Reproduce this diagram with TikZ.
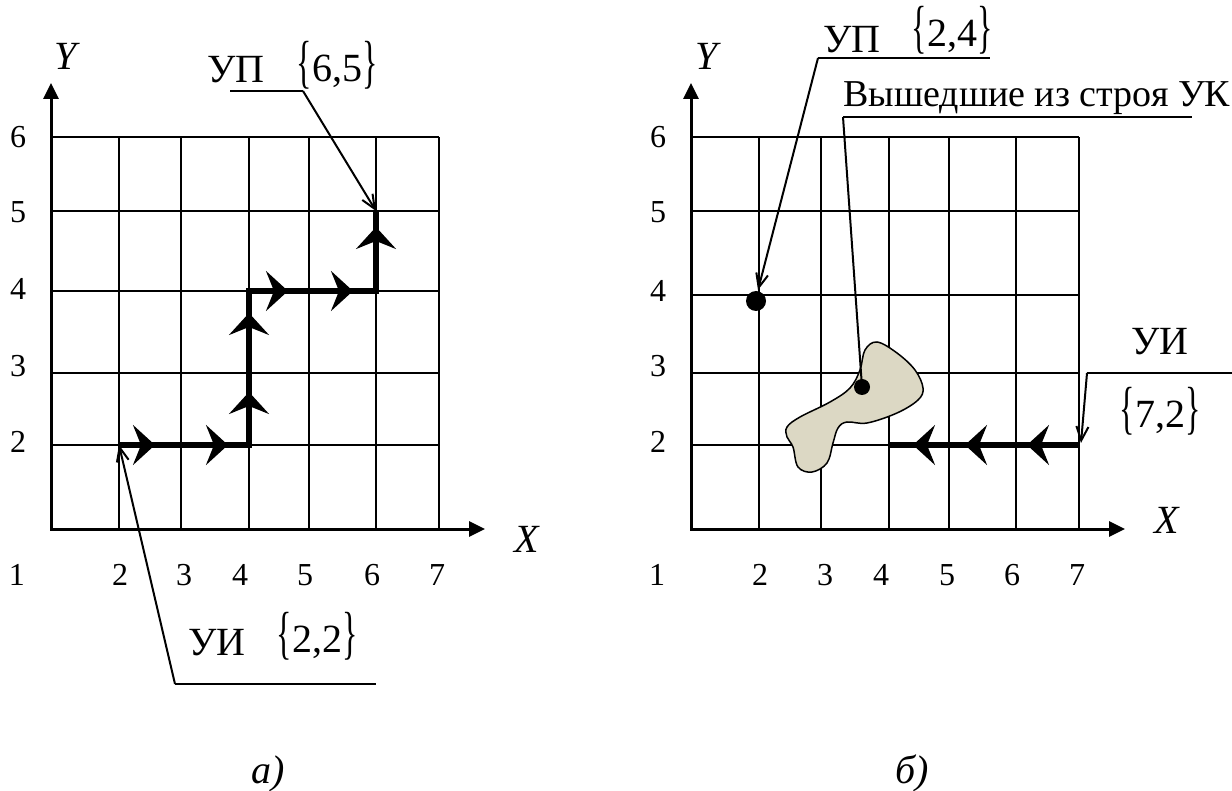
\documentclass[tikz,border=0pt]{standalone}
\usepackage{fontspec}
\setmainfont{Liberation Serif}
\usepackage{graphicx}
\usetikzlibrary{arrows.meta,decorations.markings}
\definecolor{blobfill}{HTML}{DCD8C4}
\newcommand\brL{\scalebox{0.8}[1.45]{\{}}
\newcommand\brR{\scalebox{0.8}[1.45]{\}}}
\newcommand\rtip{\arrow{Stealth[length=22pt,width=40pt,inset=8pt]}}

\begin{document}
\begin{tikzpicture}[x=1pt,y=-1pt,
  gridln/.style={line width=2pt},
  axis/.style={line width=3pt,{Triangle[length=16pt,width=15pt]}-{Triangle[length=16pt,width=15pt]}},
  route/.style={line width=5.5pt,postaction={decorate}},
  leader/.style={line width=2pt},
  ldrtip/.style={-{Straight Barb[length=14pt,width=12pt]}},
  num/.style={font=\fontsize{32}{36}\selectfont,anchor=base,inner sep=0pt},
  lab/.style={font=\fontsize{40}{44}\selectfont,anchor=base,inner sep=0pt},
  axlab/.style={font=\fontsize{40}{44}\selectfont\itshape,anchor=base,inner sep=0pt}]
\useasboundingbox (0,0) rectangle (1232,791);

% ---- panel a
\foreach \x in {119,181,249,309,376,439} \draw[gridln] (\x,137) -- (\x,529);
\foreach \y in {137,211,291,373,445} \draw[gridln] (51,\y) -- (439,\y);
\draw[axis] (51,83) -- (51,529) -- (485,529);
\node[axlab] (aY) at (66,70) {Y};
\node[axlab] (aX) at (527,552) {X};
\foreach \t/\y in {6/148,5/223,4/300,3/377,2/453} \node[num] (ay\t) at (18,\y) {\t};
\foreach \t/\x in {1/17,2/120,3/184,4/240,5/305,6/372,7/437} \node[num] (ax\t) at (\x,585) {\t};

\coordinate (a22) at (119,445); \coordinate (a42) at (249,445);
\coordinate (a44) at (249,291); \coordinate (a64) at (376,291);
\coordinate (a65) at (376,211);
\draw[route,decoration={markings,
  mark=at position 36pt with {\rtip}, mark=at position 109pt with {\rtip},
  mark=at position 183pt with {\rtip}, mark=at position 262pt with {\rtip},
  mark=at position 323pt with {\rtip}, mark=at position 388pt with {\rtip},
  mark=at position 475pt with {\rtip}}]
  (a22) -- (a42) -- (a44) -- (a64) -- (a65);

\node[lab] (aUP) at (236,83) {УП};
\node[lab] (aUPv) at (337,82) {\brL6,5\brR};
\coordinate (aUPs) at (230,91); \coordinate (aUPk) at (303,91);
\draw[leader] (aUPs) -- (aUPk);
\draw[leader,ldrtip] (aUPk) -- (a65);

\node[lab] (aUI) at (217,655) {УИ};
\node[lab] (aUIv) at (317,652) {\brL2,2\brR};
\coordinate (aUIk) at (175,684); \coordinate (aUIe) at (376,684);
\draw[leader] (aUIk) -- (aUIe);
\draw[leader,ldrtip] (aUIk) -- (a22);

\node[axlab] (capa) at (268,783) {а)};

% ---- panel b
\begin{scope}[xshift=640pt]
\foreach \x in {119,181,249,309,376,439} \draw[gridln] (\x,137) -- (\x,529);
\foreach \y in {137,211,295,373,445} \draw[gridln] (51,\y) -- (439,\y);
\draw[axis] (51,83) -- (51,529) -- (485,529);
\node[axlab] (bY) at (67,70) {Y};
\node[axlab] (bX) at (527,533) {X};
\foreach \t/\y in {6/148,5/223,4/302,3/377,2/453} \node[num] (by\t) at (18,\y) {\t};
\foreach \t/\x in {1/17,2/120,3/185,4/241,5/307,6/372,7/437} \node[num] (bx\t) at (\x,585) {\t};

% failed nodes
\draw[line width=1.5pt,fill=blobfill] plot[smooth cycle,tension=0.6] coordinates {
  (237,342) (257,353) (275,370) (283,388) (278,400) (257,413) (227,423)
  (207,422) (198,428) (193,443) (187,463) (172,472) (158,467) (153,447)
  (147,437) (147,427) (160,417) (190,402) (210,388) (220,370) (225,350)};

\coordinate (b72) at (439,445); \coordinate (b42) at (249,445);
\draw[route,decoration={markings,
  mark=at position 52pt with {\rtip}, mark=at position 114pt with {\rtip},
  mark=at position 166pt with {\rtip}}]
  (b72) -- (b42);

\coordinate (bfin) at (116,301);
\fill (bfin) circle (10pt);
\node[lab] (bUP) at (212,53) {УП};
\node[lab] (bUPv) at (312,47) {\brL2,4\brR};
\coordinate (bUPk) at (178,58); \coordinate (bUPe) at (350,58);
\draw[leader] (bUPk) -- (bUPe);
\draw[leader,ldrtip] (bUPk) -- (118,290);

\coordinate (bfail) at (222,387);
\node[lab,anchor=base west,font=\fontsize{38}{42}\selectfont] (bFail) at (203,107) {Вышедшие из строя УК};
\coordinate (bFk) at (203,117); \coordinate (bFe) at (552,117);
\draw[leader] (bFk) -- (bFe);
\draw[leader] (bFk) -- (bfail);
\fill (bfail) circle (8pt);

\node[lab] (bUI) at (520,355) {УИ};
\node[lab] (bUIv) at (520,428) {\brL7,2\brR};
\coordinate (bUIk) at (447,373); \coordinate (bUIe) at (592,373);
\draw[leader] (bUIk) -- (bUIe);
\draw[leader,ldrtip] (bUIk) -- (441,443);

\node[axlab] (capb) at (272,783) {б)};
\end{scope}
\end{tikzpicture}
\end{document}
